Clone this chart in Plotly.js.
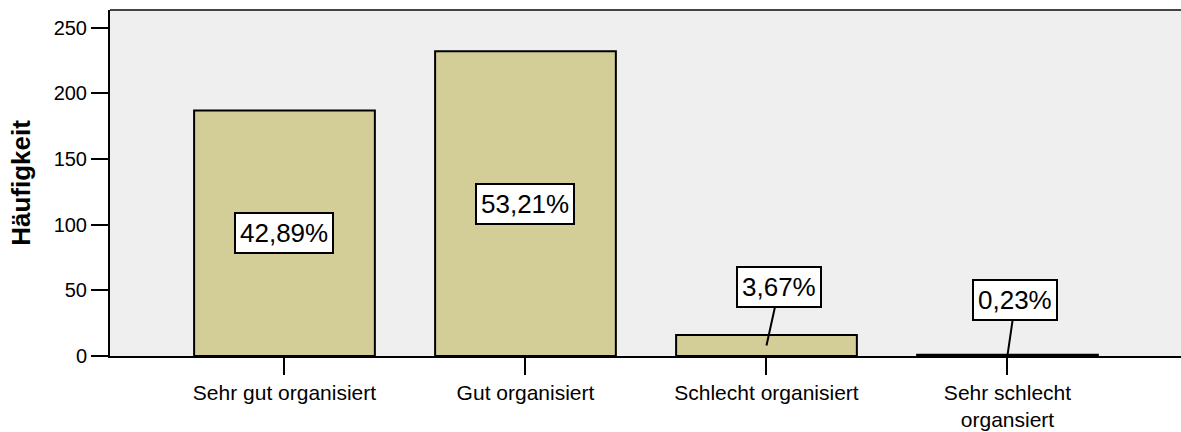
<!DOCTYPE html>
<html>
<head>
<meta charset="utf-8">
<script src="https://cdn.plot.ly/plotly-3.0.1.min.js"></script>
<style>html,body{margin:0;padding:0;background:#fff}#chart{width:1181px;height:432px}</style>
</head>
<body>
<div id="chart"></div>
<script>
const categories = ["Sehr gut organisiert", "Gut organisiert", "Schlecht organisiert", "Sehr schlecht<br>organsiert"];
const counts = [187, 232, 16, 1];
const pctLabels = ["42,89%", "53,21%", "3,67%", "0,23%"];
const yTicks = [0, 50, 100, 150, 200, 250];

const FONT = "'Liberation Sans', Arial, Helvetica, sans-serif";

// label placement: [showArrow, ax, ay] in pixels
const labelOffsets = [[false, 0, 0], [false, 0, 0], [true, 13, -59], [true, 8, -55]];

const annotations = categories.map((c, i) => ({
  x: c, y: counts[i] / 2, xref: 'x', yref: 'y',
  text: pctLabels[i],
  showarrow: labelOffsets[i][0],
  ax: labelOffsets[i][1], ay: labelOffsets[i][2],
  arrowhead: 0, arrowwidth: 2, arrowcolor: '#000', standoff: 0,
  bgcolor: '#ffffff', bordercolor: '#000', borderwidth: 2, borderpad: 4,
  font: {family: FONT, size: 26, color: '#000'},
  xanchor: 'center', yanchor: 'middle'
}));

const trace = {
  type: 'bar',
  x: categories,
  y: counts,
  width: 0.75,
  marker: {color: '#d3ce98', line: {color: '#000', width: 2}},
  hoverinfo: 'x+y'
};

const layout = {
  width: 1181, height: 432,
  margin: {l: 110, r: 0, t: 10, b: 76},
  paper_bgcolor: '#ffffff',
  plot_bgcolor: '#efefef',
  showlegend: false,
  font: {family: FONT, color: '#000'},
  xaxis: {
    type: 'category',
    range: [-0.724, 3.72],
    showgrid: false, zeroline: false,
    showline: true, linecolor: '#000', linewidth: 1.5,
    ticks: 'outside', ticklen: 17, tickwidth: 2, tickcolor: '#000',
    tickfont: {family: FONT, size: 21, color: '#000'}
  },
  yaxis: {
    range: [0, 263.5],
    tickvals: yTicks,
    ticktext: yTicks.map(String),
    showgrid: false, zeroline: false,
    showline: true, linecolor: '#000', linewidth: 2,
    ticks: 'outside', ticklen: 17, tickwidth: 2, tickcolor: '#000',
    tickfont: {family: FONT, size: 20, color: '#000'},
    title: {text: 'Häufigkeit', font: {family: FONT, size: 26, color: '#000', weight: 'bold'}, standoff: 16}
  },
  shapes: [{
    type: 'line', xref: 'paper', yref: 'paper', x0: 0, x1: 1, y0: 1, y1: 1,
    line: {color: '#444', width: 2}
  }],
  annotations: annotations
};

Plotly.newPlot('chart', [trace], layout, {displayModeBar: false, staticPlot: true});
</script>
</body>
</html>
